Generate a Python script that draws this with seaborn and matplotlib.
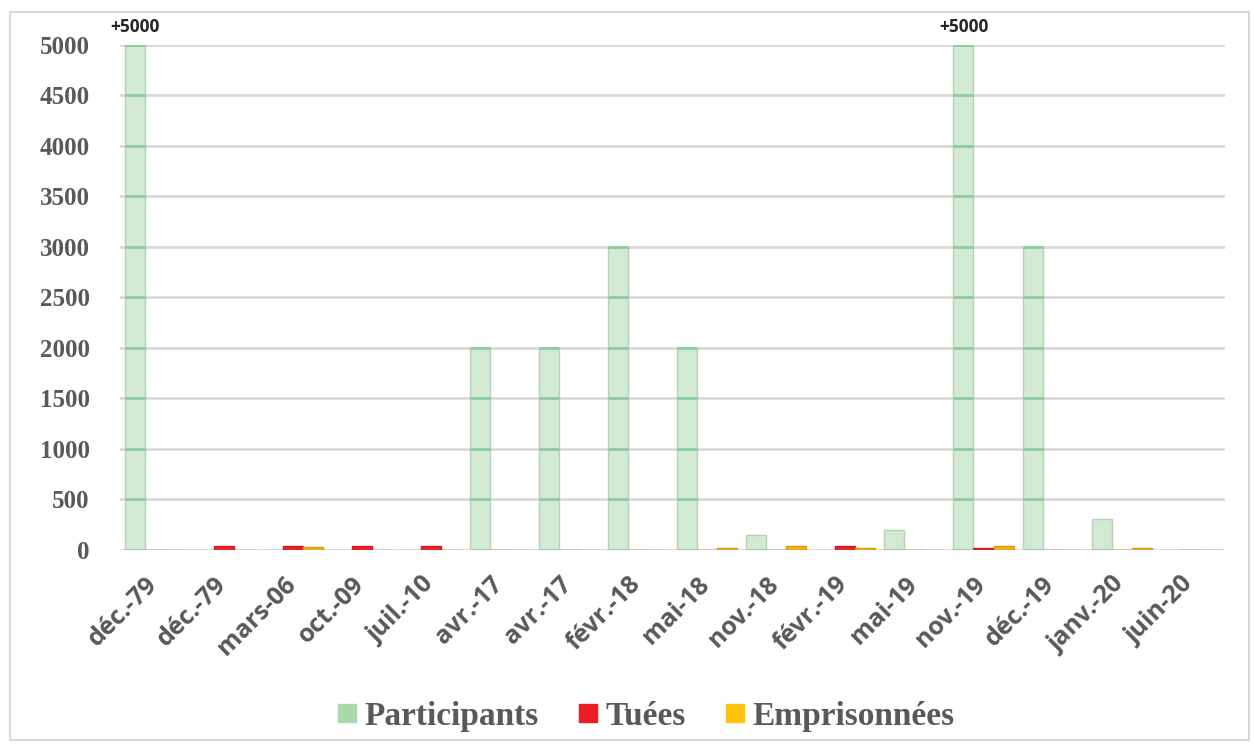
import matplotlib
matplotlib.use("Agg")
import matplotlib.pyplot as plt
import matplotlib.transforms as mtransforms
import seaborn as sns
import pandas as pd
from matplotlib.patches import Rectangle
from matplotlib.lines import Line2D

categories = ["déc.-79", "déc.-79", "mars-06", "oct.-09", "juil.-10", "avr.-17", "avr.-17",
              "févr.-18", "mai-18", "nov.-18", "févr.-19", "mai-19", "nov.-19", "déc.-19",
              "janv.-20", "juin-20"]
participants = [5000, 0, 0, 0, 0, 2000, 2000, 3000, 2000, 150, 0, 200, 5000, 3000, 300, 0]
tuees = [0, 40, 40, 40, 40, 0, 0, 0, 0, 0, 40, 0, 20, 0, 0, 0]
emprisonnees = [0, 0, 25, 0, 0, 0, 0, 0, 20, 40, 20, 0, 40, 0, 20, 0]
series = ["Participants", "Tuées", "Emprisonnées"]
colors = ["#d2e9d2", "#e8242a", "#f2b321"]
legend_colors = ["#a9d8ae", "#ee1c25", "#ffc20e"]
annot_labels = {0: "+5000", 12: "+5000"}
yticks = list(range(0, 5001, 500))

rows = []
for i in range(len(categories)):
    rows.append({"pos": i, "serie": series[0], "val": participants[i]})
    rows.append({"pos": i, "serie": series[1], "val": tuees[i]})
    rows.append({"pos": i, "serie": series[2], "val": emprisonnees[i]})
df = pd.DataFrame(rows)

sns.set_style("white")
fig = plt.figure(figsize=(12.54, 7.49), dpi=100)
ax = fig.add_axes([0.096, 0.266, 0.881, 0.674])

sns.barplot(data=df, x="pos", y="val", hue="serie", hue_order=series,
            palette=colors, width=0.87, ax=ax, legend=False,
            edgecolor="#b9d2b9", linewidth=1.0, saturation=1)

for cont, ec in zip(ax.containers, ["#b7cfb7", "#c81c20", "#d99a10"]):
    for p in cont:
        p.set_edgecolor(ec)

# green marks where gridlines cross the translucent Participants bars
for p in ax.containers[0]:
    h = p.get_height()
    for yv in yticks:
        if 0 <= yv <= h and h > 0:
            ax.hlines(yv, p.get_x(), p.get_x() + p.get_width(), color="#8dcb9f",
                      linewidth=2, zorder=3)

ax.set_ylim(0, 5000)
ax.set_xlim(-0.5, len(categories) - 0.5)
ax.set_yticks(yticks)
ax.yaxis.grid(True, color="#d9d9d9", linewidth=2)
ax.set_axisbelow(True)
for s in ax.spines.values():
    s.set_visible(False)
ax.set_xlabel("")
ax.set_ylabel("")

ax.set_xticks(range(len(categories)))
ax.set_xticklabels(categories, rotation=45, ha="right", rotation_mode="anchor",
                   fontsize=18, fontweight="bold", family="Open Sans", color="#595959")
ax.tick_params(axis="x", length=0, pad=16)
ax.tick_params(axis="y", length=0, pad=22)
offset = mtransforms.ScaledTranslation(-10 / 100, 0, fig.dpi_scale_trans)
for t in ax.get_xticklabels():
    t.set_transform(t.get_transform() + offset)
for t in ax.get_yticklabels():
    t.set_fontfamily("Liberation Serif")
    t.set_fontweight("bold")
    t.set_fontsize(18)
    t.set_color("#595959")

for i, lab in annot_labels.items():
    bar = ax.containers[0][i]
    ax.text(bar.get_x() + bar.get_width() / 2, participants[i] + 90, lab,
            ha="center", va="bottom", fontsize=12.5, fontweight="bold",
            family="Open Sans", color="#262626", clip_on=False)

handles = [Line2D([0], [0], marker="s", linestyle="", markersize=13,
                  markerfacecolor=c, markeredgecolor=c) for c in legend_colors]
leg = fig.legend(handles, series, loc="center", bbox_to_anchor=(0.511, 0.044),
                 ncol=3, frameon=False, handletextpad=-0.1, columnspacing=0.9,
                 handlelength=1.2,
                 prop={"family": "Liberation Serif", "weight": "bold", "size": 24})
for t in leg.get_texts():
    t.set_color("#595959")

fig.patches.append(Rectangle((0.008, 0.012), 0.988, 0.972, transform=fig.transFigure,
                             fill=False, edgecolor="#d9d9d9", linewidth=1.5))

fig.savefig("out.png", dpi=100)
